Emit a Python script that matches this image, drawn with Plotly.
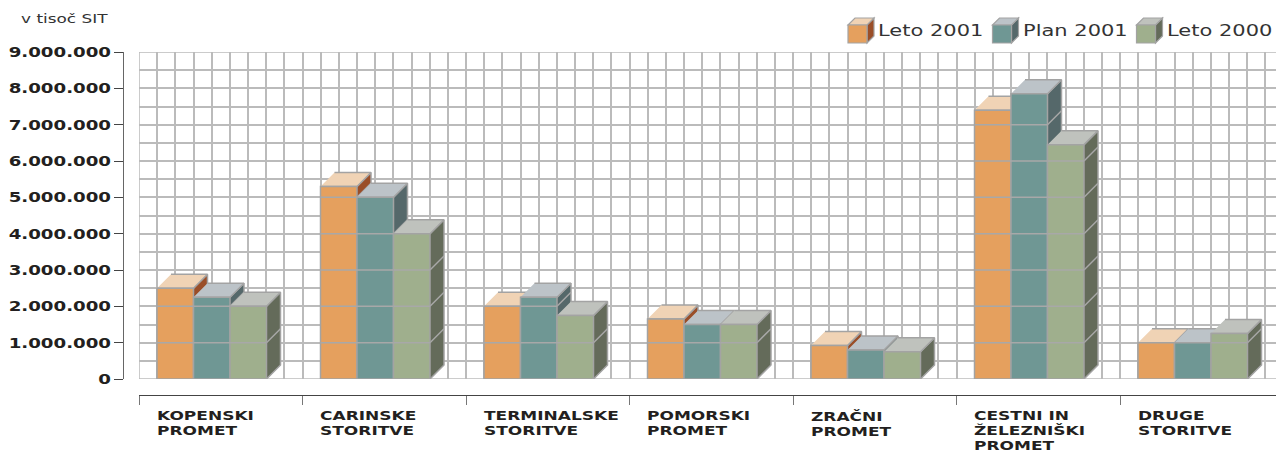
import plotly.graph_objects as go

categories = ["KOPENSKI<br>PROMET", "CARINSKE<br>STORITVE", "TERMINALSKE<br>STORITVE", "POMORSKI<br>PROMET",
              "ZRAČNI<br>PROMET", "CESTNI IN<br>ŽELEZNIŠKI<br>PROMET", "DRUGE<br>STORITVE"]
series_names = ["Leto 2001", "Plan 2001", "Leto 2000"]
leto_2001 = [2500000, 5300000, 2000000, 1650000, 920000, 7400000, 1000000]
plan_2001 = [2250000, 5000000, 2250000, 1500000, 800000, 7850000, 1000000]
leto_2000 = [2000000, 4000000, 1750000, 1500000, 750000, 6450000, 1250000]
tick_vals = [0, 1000000, 2000000, 3000000, 4000000, 5000000, 6000000, 7000000, 8000000, 9000000]
tick_text = ["0", "1.000.000", "2.000.000", "3.000.000", "4.000.000", "5.000.000",
             "6.000.000", "7.000.000", "8.000.000", "9.000.000"]
values = [leto_2001, plan_2001, leto_2000]

W, H = 1276, 450
front = ["#E5A05E", "#6F9794", "#9FAF8D"]
top = ["#F0D3B5", "#BCC3C8", "#BFC2BD"]
side = ["#9A4E28", "#55686A", "#646B5A"]
edge = "#A3A3A3"
grid = "#BBBBBB"
bar_grid = "#A8A8A8"
ink = "#231F20"
LW = 1.5

CAT_PX = 163.5
PX_M = 327 / 9e6
X0, Y0, Y9 = 139, 379, 52
bar_w = 36.5 / CAT_PX
lead = 18 / CAT_PX
dx = 14 / CAT_PX
dy = 14 / PX_M
x_max = (W - X0) / CAT_PX

fig = go.Figure()


def px(a):
    return a / W


def py(a):
    return 1 - a / H


# grid edges that the axes leave out at the ends of their ranges
fig.add_trace(go.Scatter(x=[0, 0, x_max, None, 0, x_max], y=[0, 9000000, 9000000, None, 0, 0], mode="lines",
                         line=dict(color=grid, width=LW), cliponaxis=False, showlegend=False, hoverinfo="skip"))

for s, vals in enumerate(values):
    sx, sy, tx, ty, gx, gy = [], [], [], [], [], []
    for i, v in enumerate(vals):
        l = i + lead + s * bar_w
        r = l + bar_w
        sx += [r, r + dx, r + dx, r, None]
        sy += [0, dy, v + dy, v, None]
        tx += [l, r, r + dx, l + dx, None]
        ty += [v, v, v + dy, v + dy, None]
        k = 1000000
        while k < v:
            gx += [r, r + dx, None]
            gy += [k, k + dy, None]
            k += 1000000
    fig.add_trace(go.Scatter(x=sx, y=sy, mode="lines", fill="toself", fillcolor=side[s],
                             line=dict(color=edge, width=LW), showlegend=False, hoverinfo="skip"))
    fig.add_trace(go.Scatter(x=gx, y=gy, mode="lines", line=dict(color=bar_grid, width=LW),
                             showlegend=False, hoverinfo="skip"))
    fig.add_trace(go.Scatter(x=tx, y=ty, mode="lines", fill="toself", fillcolor=top[s],
                             line=dict(color=edge, width=LW), showlegend=False, hoverinfo="skip"))

for s, vals in enumerate(values):
    fig.add_trace(go.Bar(x=[i + lead + s * bar_w for i in range(len(vals))], y=vals, width=bar_w, offset=0,
                         name=series_names[s], marker=dict(color=front[s], line=dict(color=edge, width=LW)),
                         xaxis="x2", yaxis="y2", showlegend=False))

for s, vals in enumerate(values):
    gx, gy = [], []
    for i, v in enumerate(vals):
        l = i + lead + s * bar_w
        k = 1000000
        while k < v:
            gx += [l, l + bar_w, None]
            gy += [k, k, None]
            k += 1000000
    fig.add_trace(go.Scatter(x=gx, y=gy, mode="lines", line=dict(color=bar_grid, width=LW),
                             xaxis="x2", yaxis="y2", showlegend=False, hoverinfo="skip"))

shapes = []
annotations = []
leg_x = [848, 992.5, 1136.5]
for s, lx in enumerate(leg_x):
    x1, x2, d = lx, lx + 19, 7
    y1, y2 = 25, 43
    def path(pts):
        return "M " + " L ".join(f"{px(a):.5f},{py(b):.5f}" for a, b in pts) + " Z"
    ln = dict(color=edge, width=1.2)
    shapes.append(dict(type="path", xref="paper", yref="paper", path=path([(x2, y1), (x2 + d, y1 - 7), (x2 + d, y2 - 7), (x2, y2)]), fillcolor=side[s], line=ln))
    shapes.append(dict(type="path", xref="paper", yref="paper", path=path([(x1, y1), (x2, y1), (x2 + d, y1 - 7), (x1 + d, y1 - 7)]), fillcolor=top[s], line=ln))
    shapes.append(dict(type="path", xref="paper", yref="paper", path=path([(x1, y1), (x2, y1), (x2, y2), (x1, y2)]), fillcolor=front[s], line=ln))
    annotations.append(dict(xref="paper", yref="paper", x=px(lx + 28), y=py(31), text=series_names[s], showarrow=False,
                            xanchor="left", yanchor="middle", align="left",
                            font=dict(family="DejaVu Sans", size=15, color="#333333")))

annotations.append(dict(xref="paper", yref="paper", x=px(19), y=py(18.5), text="v tisoč SIT", showarrow=False,
                        xanchor="left", yanchor="middle", font=dict(family="DejaVu Sans", size=13, color="#333333")))
for i, c in enumerate(categories):
    annotations.append(dict(xref="x", yref="paper", x=i + lead - 2.5 / CAT_PX, y=py(407), text=c, showarrow=False, xanchor="left",
                            yanchor="top", align="left", font=dict(family="DejaVu Sans", size=11.5, color=ink, weight="bold")))

fig.update_layout(
    width=W, height=H, margin=dict(l=0, r=0, t=0, b=0, autoexpand=False), paper_bgcolor="white", plot_bgcolor="white",
    barmode="overlay", shapes=shapes, annotations=annotations,
    xaxis=dict(domain=[px(X0), 1], range=[0, x_max], anchor="free", position=py(395), tick0=0, dtick=1,
               ticks="outside", ticklen=9, tickcolor="#777777", tickwidth=1.2, showticklabels=False,
               showline=True, linecolor="#444444", linewidth=1.2, zeroline=False,
               showgrid=True, gridcolor=grid, gridwidth=LW,
               minor=dict(dtick=1 / 9, tick0=0, showgrid=True, gridcolor=grid, gridwidth=LW, ticks="")),
    yaxis=dict(domain=[py(Y0), py(Y9)], range=[0, 9000000], anchor="free", position=px(123),
               tickvals=tick_vals, ticktext=tick_text, ticks="outside", ticklen=9, tickcolor="#444444", tickwidth=1.2,
               tickfont=dict(family="DejaVu Sans", size=14, color=ink, weight="bold"),
               showline=True, linecolor="#666666", linewidth=1.2, zeroline=False,
               showgrid=True, gridcolor=grid, gridwidth=LW,
               minor=dict(dtick=500000, tick0=0, showgrid=True, gridcolor=grid, gridwidth=LW, ticks="")),
    xaxis2=dict(domain=[px(X0), 1], range=[0, x_max], overlaying="x", visible=False, anchor="y2"),
    yaxis2=dict(domain=[py(Y0), py(Y9)], range=[0, 9000000], overlaying="y", visible=False, anchor="x2"),
)

# The reference uses an extended typeface: widen the real text horizontally.
post = """
document.body.style.margin='0';
function stretch(t,k,end){
  var b=t.getBBox(), ax=end?b.x+b.width:b.x, cur=t.getAttribute('transform')||'';
  t.setAttribute('transform',cur+' translate('+ax+',0) scale('+k+',1) translate('+(-ax)+',0)');
}
document.querySelectorAll('.ytick text').forEach(function(t){stretch(t,1.3,true);});
document.querySelectorAll('.annotation-text').forEach(function(t){
  var s=parseFloat(t.style.fontSize)||12;
  stretch(t,s>14?1.4:(s>12.5?1.3:1.48),false);
});
"""
fig.write_html("out.html", post_script=post, config={"displayModeBar": False})
